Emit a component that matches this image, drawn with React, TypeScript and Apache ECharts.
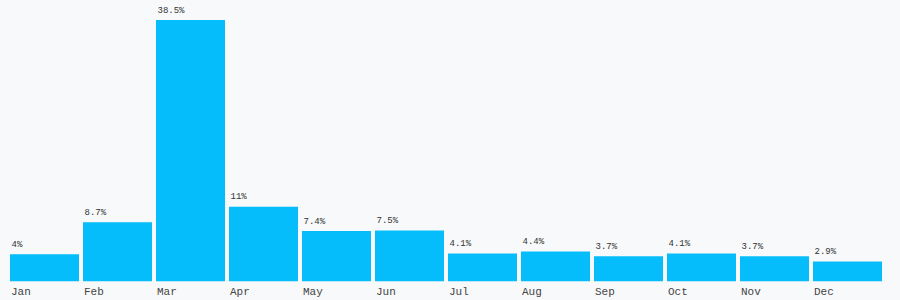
import React, { useEffect, useRef } from "react";
import * as echarts from "echarts";

const months = ["Jan", "Feb", "Mar", "Apr", "May", "Jun", "Jul", "Aug", "Sep", "Oct", "Nov", "Dec"];
const shares = [4, 8.7, 38.5, 11, 7.4, 7.5, 4.1, 4.4, 3.7, 4.1, 3.7, 2.9];

const FONT = "'Liberation Mono', 'DejaVu Sans Mono', monospace";
const BAR = "#05bdfa";

export default function App() {
  const ref = useRef<HTMLDivElement>(null);
  useEffect(() => {
    if (!ref.current) return;
    const chart = echarts.init(ref.current, undefined, { renderer: "svg" });
    chart.setOption({
      animation: false,
      backgroundColor: "#f8f9fb",
      grid: { left: 8, right: 16, top: 20, bottom: 18.7 },
      xAxis: [
        {
          type: "category",
          data: months,
          axisLine: { show: false },
          axisTick: { show: false },
          axisLabel: { show: false },
        },
        {
          type: "value",
          position: "bottom",
          min: 0,
          max: months.length,
          interval: 1,
          axisLine: { show: false },
          axisTick: { show: false },
          splitLine: { show: false },
          axisLabel: {
            show: true,
            align: "left",
            margin: 4.7,
            padding: [0, 0, 0, 3],
            fontFamily: FONT,
            fontSize: 11,
            color: "#444",
            showMaxLabel: false,
            formatter: (v: number) => months[Math.round(v)] ?? "",
          },
        },
      ],
      yAxis: {
        type: "value",
        min: 0,
        max: Math.max(...shares),
        show: false,
        splitLine: { show: false },
      },
      series: [
        {
          type: "bar",
          data: shares,
          xAxisIndex: 0,
          barWidth: 69,
          itemStyle: { color: BAR },
          label: {
            show: true,
            position: [1.5, -5],
            align: "left",
            verticalAlign: "bottom",
            fontFamily: FONT,
            fontSize: 9,
            color: "#333",
            formatter: (p: any) => `${p.value}%`,
          },
        },
      ],
    });
    return () => chart.dispose();
  }, []);
  return <div ref={ref} style={{ width: 900, height: 300, position: "absolute", left: 0, top: 0 }} />;
}
